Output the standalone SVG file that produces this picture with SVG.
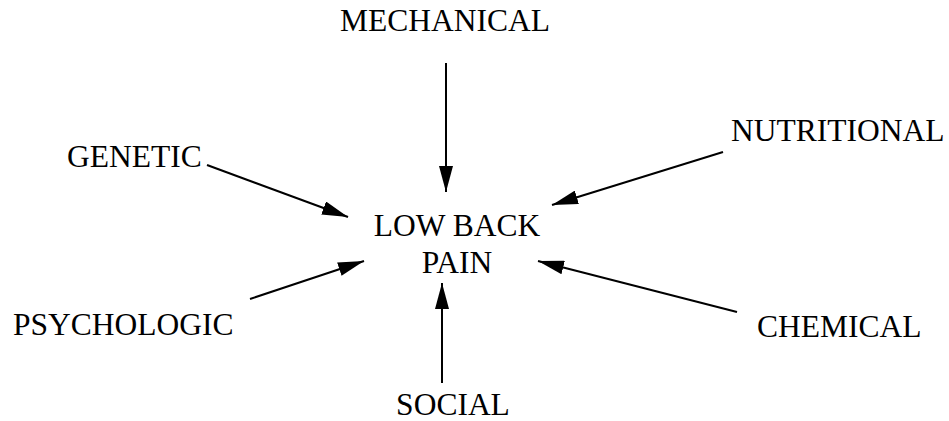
<svg xmlns="http://www.w3.org/2000/svg" width="949" height="421" viewBox="0 0 949 421">
<style>
.t{font-family:"Liberation Serif","Times New Roman",serif;font-size:31.5px;fill:#000}
.c{stroke:#000;stroke-width:2;fill:none}
</style>
<defs>
<marker id="ah" viewBox="0 0 26 14" refX="26" refY="7" markerWidth="26" markerHeight="14" markerUnits="userSpaceOnUse" orient="auto">
<path d="M0,0 L26,7 L0,14 z" fill="#000"/>
</marker>
</defs>
<rect width="949" height="421" fill="#fff"/>
<g id="connectors">
<line class="c" x1="446" y1="63" x2="446" y2="192" marker-end="url(#ah)"/>
<line class="c" x1="207" y1="165" x2="348" y2="217" marker-end="url(#ah)"/>
<line class="c" x1="723" y1="152" x2="552" y2="205" marker-end="url(#ah)"/>
<line class="c" x1="250" y1="299" x2="364" y2="261" marker-end="url(#ah)"/>
<line class="c" x1="737" y1="312" x2="538" y2="261" marker-end="url(#ah)"/>
<line class="c" x1="442" y1="383" x2="442" y2="283" marker-end="url(#ah)"/>
</g>
<g id="center"><text class="t" x="457" y="236" text-anchor="middle">LOW BACK</text><text class="t" x="457" y="273" text-anchor="middle">PAIN</text></g>
<g id="mechanical"><text class="t" x="445" y="31" text-anchor="middle">MECHANICAL</text></g>
<g id="genetic"><text class="t" x="67" y="167">GENETIC</text></g>
<g id="nutritional"><text class="t" x="731" y="141">NUTRITIONAL</text></g>
<g id="psychologic"><text class="t" x="13" y="335">PSYCHOLOGIC</text></g>
<g id="chemical"><text class="t" x="757" y="337">CHEMICAL</text></g>
<g id="social"><text class="t" x="453" y="415" text-anchor="middle">SOCIAL</text></g>
</svg>
